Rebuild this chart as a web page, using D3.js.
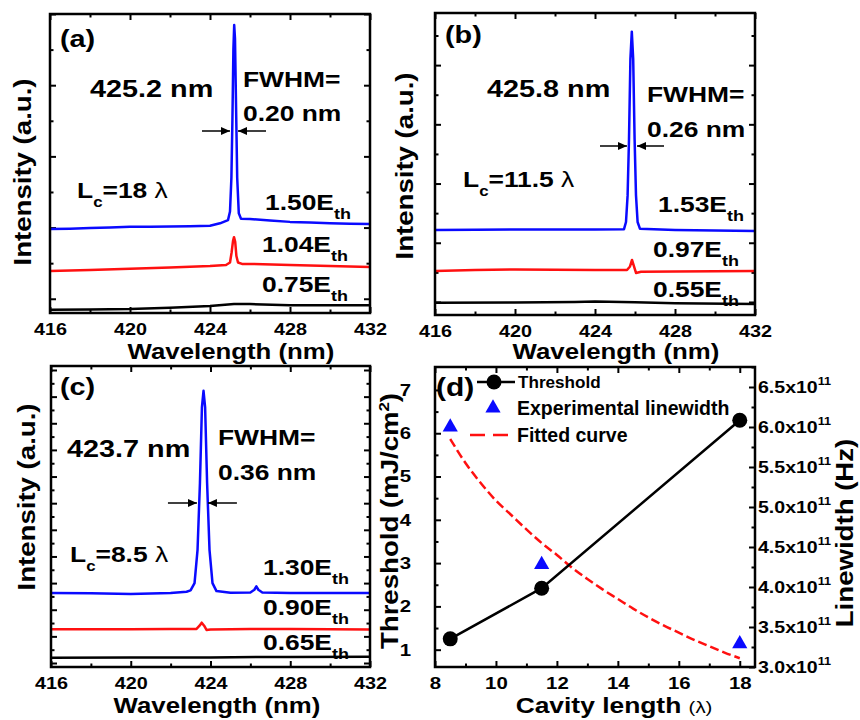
<!DOCTYPE html>
<html>
<head>
<meta charset="utf-8">
<script src="https://cdn.jsdelivr.net/npm/d3@7"></script>
<style>
body { margin: 0; background: #fff; }
svg text { font-family: "Liberation Sans", Arial, Helvetica, sans-serif; font-weight: bold; fill: #000; }
</style>
</head>
<body>
<svg id="fig" width="860" height="720"></svg>
<script>
// ---- data ----
var wavelengthTicks = [416, 420, 424, 428, 432];
var wavelengthMinor = [418, 422, 426, 430];

// (a) Lc = 18 lambda  [wavelength nm, intensity a.u.]
var blueA = [[416,1.96],[417,1.97],[418,1.99],[419,2.0],[420,2.02],[421,2.02],[422,2.03],[423,2.04],[424,2.05],[424.5,2.12],[424.9,2.21],[425.0,2.45],[425.07,3.4],[425.12,5.0],[425.17,7.0],[425.21,7.69],[425.25,7.3],[425.3,5.5],[425.36,3.4],[425.44,2.4],[425.55,2.25],[426,2.24],[427,2.2],[428,2.16],[429,2.14],[430,2.12],[431,2.11],[432,2.10]];
var redA = [[416,0.78],[418,0.81],[420,0.84],[422,0.88],[424,0.92],[424.8,0.95],[425.0,1.02],[425.08,1.3],[425.15,1.62],[425.2,1.73],[425.26,1.6],[425.32,1.2],[425.4,1.02],[425.6,0.98],[426,0.98],[428,0.95],[430,0.92],[432,0.89]];
var blackA = [[416,-0.31],[418,-0.3],[420,-0.29],[422,-0.25],[424,-0.2],[425.2,-0.15],[426,-0.15],[428,-0.18],[430,-0.18],[432,-0.18]];
var pumpA = ["1.50", "1.04", "0.75"];

// (b) Lc = 11.5 lambda
var blueB = [[416,2.43],[418,2.44],[420,2.45],[422,2.45],[424,2.45],[425.45,2.46],[425.55,2.7],[425.63,3.6],[425.7,5.5],[425.77,8.2],[425.84,9.13],[425.91,8.2],[425.98,5.5],[426.05,3.6],[426.13,2.7],[426.25,2.47],[428,2.43],[430,2.41],[432,2.40]];
var redB = [[416,1.05],[418,1.08],[420,1.10],[422,1.09],[424,1.08],[425.6,1.08],[425.75,1.2],[425.85,1.42],[425.95,1.2],[426.05,0.98],[426.3,1.02],[428,1.03],[430,1.04],[432,1.05]];
var blackB = [[416,-0.03],[420,-0.02],[423,0.0],[424,0.02],[426,-0.01],[428,-0.04],[432,-0.07]];
var pumpB = ["1.53", "0.97", "0.55"];

// (c) Lc = 8.5 lambda
var blueC = [[416,5.26],[418,5.24],[420,5.18],[422,5.25],[422.8,5.35],[423.0,5.45],[423.2,6.0],[423.35,8.5],[423.47,13.5],[423.57,19.2],[423.65,20.44],[423.73,19.2],[423.83,13.5],[423.95,8.5],[424.1,6.0],[424.3,5.4],[425,5.28],[426,5.3],[426.2,5.5],[426.3,5.75],[426.4,5.5],[426.6,5.3],[428,5.26],[430,5.26],[432,5.26]];
var redC = [[416,2.53],[418,2.54],[420,2.54],[422,2.55],[423.3,2.56],[423.45,2.8],[423.56,3.03],[423.68,2.8],[423.8,2.48],[424,2.52],[426,2.55],[428,2.55],[430,2.53],[432,2.52]];
var blackC = [[416,0.40],[420,0.41],[424,0.42],[426.5,0.46],[428,0.45],[432,0.47]];
var pumpC = ["1.30", "0.90", "0.65"];

// (d) threshold and linewidth vs cavity length
var cavityLength = [8.5, 11.5, 18];
var threshold = [1.25, 2.42, 6.3];          // mJ/cm2
var linewidth = [6.0, 4.28, 3.29];          // x10^11 Hz
var fitLength = [8.5, 9, 9.5, 10, 10.5, 11, 11.5, 12, 12.5, 13, 13.5, 14, 14.5, 15, 15.5, 16, 16.5, 17, 17.5, 18];
var fitLinewidth = [5.85, 5.55, 5.3, 5.08, 4.9, 4.72, 4.55, 4.4, 4.24, 4.1, 3.97, 3.85, 3.73, 3.62, 3.52, 3.43, 3.34, 3.26, 3.18, 3.11];
var cavityTicks = [8, 10, 12, 14, 16, 18];
var cavityMinor = [9, 11, 13, 15, 17];
var thresholdTicks = [1, 2, 3, 4, 5, 6, 7];
var thresholdMinor = [1.5, 2.5, 3.5, 4.5, 5.5, 6.5];
var linewidthTicks = [3.0, 3.5, 4.0, 4.5, 5.0, 5.5, 6.0, 6.5];
var linewidthMinor = [3.25, 3.75, 4.25, 4.75, 5.25, 5.75, 6.25, 6.75];

var BLUE = "#0a0aff", RED = "#ff1010";
var SX = 1.2;   // the figure's lettering is wide

var svg = d3.select("#fig");

svg.append("defs").append("marker")
    .attr("id", "head")
    .attr("markerUnits", "userSpaceOnUse")
    .attr("markerWidth", 9).attr("markerHeight", 8)
    .attr("refX", 9).attr("refY", 4)
    .attr("orient", "auto")
    .append("path").attr("d", "M0,0L9,4L0,8z").attr("fill", "#000");

function label(g, x, y, size, sx, anchor, rot)
{
    return g.append("text")
        .attr("transform", "translate(" + x + "," + y + ")" + (rot ? " rotate(" + rot + ")" : "") + " scale(" + sx + ",1)")
        .attr("font-size", size)
        .attr("text-anchor", anchor || "start");
}

function tickAxis(g, gen, vals, size, tx, ty, fmt)
{
    var a = g.append("g")
        .attr("transform", "translate(" + tx + "," + ty + ")")
        .call(gen.tickValues(vals).tickSizeInner(-size).tickSizeOuter(0).tickPadding(0)
            .tickFormat(fmt || function() { return ""; }));
    a.attr("font-family", null).attr("font-size", null);
    a.select(".domain").remove();
    a.selectAll(".tick line").attr("stroke", "#000").attr("stroke-width", 2);
    return a;
}

function frame(g, x, y)
{
    var xr = x.range(), yr = y.range();
    g.append("rect")
        .attr("x", xr[0]).attr("y", yr[1])
        .attr("width", xr[1] - xr[0]).attr("height", yr[0] - yr[1])
        .attr("fill", "none").attr("stroke", "#000").attr("stroke-width", 2.5);
}

function spectrumPanel(cfg)
{
    var g = svg.append("g");
    var x = d3.scaleLinear().domain([416, 432]).range(cfg.xr);
    var y = d3.scaleLinear().domain(cfg.yd).range(cfg.yr);
    var line = d3.line().x(function(d) { return x(d[0]); }).y(function(d) { return y(d[1]); });

    var yMajor = d3.range(0, cfg.yd[1] + 0.01, 2);
    var yMinor = d3.range(1, cfg.yd[1], 2);
    var bottom = cfg.yr[0], top = cfg.yr[1], left = cfg.xr[0], right = cfg.xr[1];

    var xb = tickAxis(g, d3.axisBottom(x), wavelengthTicks, 6, 0, bottom, d3.format("d"));
    xb.selectAll(".tick text").attr("y", 10).attr("dy", "0.71em")
        .attr("font-size", 16.5).attr("transform", "scale(" + SX + ",1)");
    tickAxis(g, d3.axisBottom(x), wavelengthMinor, 3.5, 0, bottom);
    tickAxis(g, d3.axisTop(x), wavelengthTicks, 6, 0, top);
    tickAxis(g, d3.axisTop(x), wavelengthMinor, 3.5, 0, top);
    tickAxis(g, d3.axisLeft(y), yMajor, 6, left, 0);
    tickAxis(g, d3.axisLeft(y), yMinor, 3.5, left, 0);
    tickAxis(g, d3.axisRight(y), yMajor, 6, right, 0);
    tickAxis(g, d3.axisRight(y), yMinor, 3.5, right, 0);

    cfg.curves.forEach(function(c) {
        g.append("path").datum(c.data)
            .attr("d", line)
            .attr("fill", "none")
            .attr("stroke", c.color)
            .attr("stroke-width", 2.5)
            .attr("stroke-linejoin", "round");
    });

    frame(g, x, y);

    // FWHM arrows
    var ay = cfg.arrow.y;
    g.append("line")
        .attr("x1", x(cfg.arrow.tips[0]) - cfg.arrow.len).attr("x2", x(cfg.arrow.tips[0]))
        .attr("y1", ay).attr("y2", ay)
        .attr("stroke", "#000").attr("stroke-width", 1.5).attr("marker-end", "url(#head)");
    g.append("line")
        .attr("x1", x(cfg.arrow.tips[1]) + cfg.arrow.len).attr("x2", x(cfg.arrow.tips[1]))
        .attr("y1", ay).attr("y2", ay)
        .attr("stroke", "#000").attr("stroke-width", 1.5).attr("marker-end", "url(#head)");

    label(g, cfg.letter[1], cfg.letter[2], 24, SX).text(cfg.letter[0]);
    label(g, cfg.peak[1], cfg.peak[2], 24, SX).text(cfg.peak[0]);
    label(g, cfg.fwhm[1], cfg.fwhm[2], 22, SX).text("FWHM=");
    label(g, cfg.fwhm[1], cfg.fwhm[3], 22, SX).text(cfg.fwhm[0]);

    var lc = label(g, cfg.lc[1], cfg.lc[2], 22, SX);
    lc.append("tspan").text("L");
    lc.append("tspan").attr("dy", 9).attr("font-size", 14).text("c");
    lc.append("tspan").attr("dy", -9).text("=" + cfg.lc[0] + " ");
    lc.append("tspan").attr("font-weight", "normal").text("\u03bb");

    cfg.pump.forEach(function(p, i) {
        var t = label(g, cfg.pumpPos[i][0], cfg.pumpPos[i][1], 22, SX);
        t.append("tspan").text(p + "E");
        t.append("tspan").attr("dy", 9).attr("font-size", 15).text("th");
    });

    label(g, cfg.xTitle[0], cfg.xTitle[1], 21.5, SX, "middle").text("Wavelength (nm)");
    label(g, cfg.yTitle[0], cfg.yTitle[1], 23, SX, "middle", -90).text("Intensity (a.u.)");
}

spectrumPanel({
    xr: [50, 370], yd: [-0.4, 8], yr: [313, 14],
    curves: [{data: blackA, color: "#000"}, {data: redA, color: RED}, {data: blueA, color: BLUE}],
    arrow: {y: 131, tips: [425.0, 425.4], len: 28},
    letter: ["(a)", 60, 47],
    peak: ["425.2 nm", 90, 97],
    fwhm: ["0.20 nm", 243, 87, 121],
    lc: ["18", 77, 198],
    pump: pumpA, pumpPos: [[265, 210], [262, 252], [262, 292]],
    xTitle: [231, 359], yTitle: [31, 172]
});

spectrumPanel({
    xr: [435, 755], yd: [-0.44, 9.76], yr: [315, 13],
    curves: [{data: blackB, color: "#000"}, {data: redB, color: RED}, {data: blueB, color: BLUE}],
    arrow: {y: 146, tips: [425.6, 426.1], len: 27},
    letter: ["(b)", 445, 43],
    peak: ["425.8 nm", 487, 97],
    fwhm: ["0.26 nm", 647, 102, 137],
    lc: ["11.5", 463, 187],
    pump: pumpB, pumpPos: [[658, 212], [653, 257], [653, 297]],
    xTitle: [616, 359], yTitle: [413, 166]
});

spectrumPanel({
    xr: [51, 370], yd: [-0.3, 22.3], yr: [667, 366],
    curves: [{data: blackC, color: "#000"}, {data: redC, color: RED}, {data: blueC, color: BLUE}],
    arrow: {y: 503, tips: [423.32, 423.87], len: 29},
    letter: ["(c)", 60, 395],
    peak: ["423.7 nm", 67, 457],
    fwhm: ["0.36 nm", 218, 445, 480],
    lc: ["8.5", 70, 562],
    pump: pumpC, pumpPos: [[263, 575], [263, 615], [263, 650]],
    xTitle: [217, 713], yTitle: [35, 497]
});

// ---- panel (d) ----
(function() {
    var g = svg.append("g");
    var x = d3.scaleLinear().domain([8, 18.5]).range([435, 755]);
    var yL = d3.scaleLinear().domain([0.6, 7.53]).range([667, 367]);
    var yR = d3.scaleLinear().domain([3.0, 6.75]).range([667, 367]);

    var xb = tickAxis(g, d3.axisBottom(x), cavityTicks, 6, 0, 667, d3.format("d"));
    xb.selectAll(".tick text").attr("y", 10).attr("dy", "0.71em")
        .attr("font-size", 17).attr("transform", "scale(" + SX + ",1)");
    tickAxis(g, d3.axisBottom(x), cavityMinor, 3.5, 0, 667);
    tickAxis(g, d3.axisTop(x), cavityTicks, 6, 0, 367);
    tickAxis(g, d3.axisTop(x), cavityMinor, 3.5, 0, 367);

    var yl = tickAxis(g, d3.axisLeft(yL), thresholdTicks, 6, 435, 0, d3.format("d"));
    yl.selectAll(".tick text").attr("x", 0).attr("dy", "0.32em").attr("text-anchor", "end")
        .attr("font-size", 17).attr("transform", "translate(-24,0) scale(" + SX + ",1)");
    tickAxis(g, d3.axisLeft(yL), thresholdMinor, 3.5, 435, 0);

    var yr = tickAxis(g, d3.axisRight(yR), linewidthTicks, 6, 755, 0);
    tickAxis(g, d3.axisRight(yR), linewidthMinor, 3.5, 755, 0);
    yr.selectAll(".tick").each(function(d) {
        var t = d3.select(this).append("text")
            .attr("dy", "0.32em").attr("text-anchor", "start")
            .attr("font-size", 17)
            .attr("transform", "translate(3,0) scale(1.15,1)");
        t.append("tspan").text(d3.format(".1f")(d) + "x10");
        t.append("tspan").attr("dy", -8).attr("font-size", 11).text("11");
    });

    // fitted curve
    g.append("path").datum(d3.zip(fitLength, fitLinewidth))
        .attr("d", d3.line().curve(d3.curveMonotoneX)
            .x(function(d) { return x(d[0]); })
            .y(function(d) { return yR(d[1]); }))
        .attr("fill", "none").attr("stroke", RED).attr("stroke-width", 2.5)
        .attr("stroke-dasharray", "9,4");

    // threshold line and points
    var th = d3.zip(cavityLength, threshold);
    g.append("path").datum(th)
        .attr("d", d3.line().x(function(d) { return x(d[0]); }).y(function(d) { return yL(d[1]); }))
        .attr("fill", "none").attr("stroke", "#000").attr("stroke-width", 2.5);
    g.selectAll("circle.th").data(th).enter().append("circle")
        .attr("class", "th")
        .attr("cx", function(d) { return x(d[0]); })
        .attr("cy", function(d) { return yL(d[1]); })
        .attr("r", 7.5).attr("fill", "#000");

    // experimental linewidth
    var tri = d3.symbol().type(d3.symbolTriangle).size(100);
    g.selectAll("path.lw").data(d3.zip(cavityLength, linewidth)).enter().append("path")
        .attr("class", "lw")
        .attr("d", tri)
        .attr("transform", function(d) { return "translate(" + x(d[0]) + "," + yR(d[1]) + ")"; })
        .attr("fill", BLUE);

    frame(g, x, yL);

    // legend
    label(g, 436, 396, 25, SX).text("(d)");
    g.append("line").attr("x1", 477).attr("x2", 515).attr("y1", 382).attr("y2", 382)
        .attr("stroke", "#000").attr("stroke-width", 2.5);
    g.append("circle").attr("cx", 494).attr("cy", 382).attr("r", 7.5).attr("fill", "#000");
    label(g, 518, 388, 16, 1.07).text("Threshold");
    g.append("path").attr("d", tri).attr("transform", "translate(493,408)").attr("fill", BLUE);
    label(g, 517, 415, 19.5, 1.0).text("Experimental linewidth");
    g.append("line").attr("x1", 470).attr("x2", 511).attr("y1", 435).attr("y2", 435)
        .attr("stroke", RED).attr("stroke-width", 2.5).attr("stroke-dasharray", "15,8");
    label(g, 517, 442, 19.5, 1.0).text("Fitted curve");

    // axis titles
    var xt = label(g, 614, 713, 22, SX, "middle");
    xt.append("tspan").text("Cavity length ");
    xt.append("tspan").attr("font-weight", "normal").attr("font-size", 17).text("(\u03bb)");

    var lt = label(g, 398, 521, 23, SX, "middle", -90);
    lt.append("tspan").text("Threshold (mJ/cm");
    lt.append("tspan").attr("dy", -9).attr("font-size", 14).text("2");
    lt.append("tspan").attr("dy", 9).text(")");

    label(g, 853, 533, 23, SX, "middle", -90).text("Linewidth (Hz)");
})();
</script>
</body>
</html>
